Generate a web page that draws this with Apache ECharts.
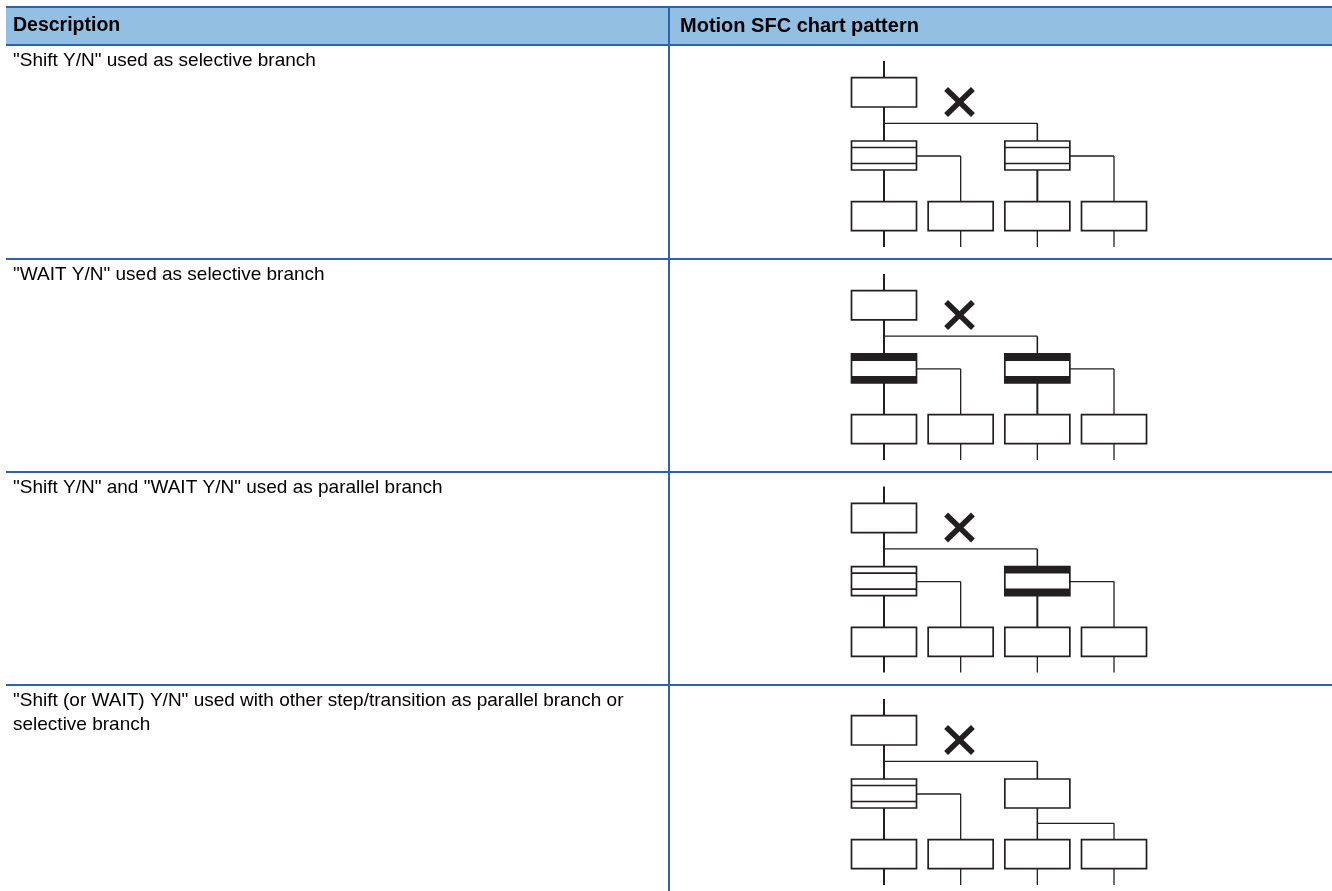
<!DOCTYPE html>
<html><head><meta charset="utf-8">
<script src="https://cdn.jsdelivr.net/npm/echarts@6/dist/echarts.min.js"></script>
<style>html,body{margin:0;padding:0;background:#fff}#c{width:1332px;height:891px}</style>
</head><body><div id="c"></div>
<script>
// ---- content ----
const headers = ['Description', 'Motion SFC chart pattern'];
const descriptions = [
  ['"Shift Y/N" used as selective branch'],
  ['"WAIT Y/N" used as selective branch'],
  ['"Shift Y/N" and "WAIT Y/N" used as parallel branch'],
  ['"Shift (or WAIT) Y/N" used with other step/transition as parallel branch or', 'selective branch']
];
// element placed at column 0 and column 2 of the second level of each pattern
const branchKinds = [
  ['shift', 'shift'],
  ['wait', 'wait'],
  ['shift', 'wait'],
  ['shift', 'step']
];
const columns = [0, 1, 2, 3];

// ---- layout ----
const rowTops = [45, 259, 472, 685];
const diagTop = [77.7, 290.6, 503.3, 715.7];
const L = { stubTop: -16.7, stepTop: 0, stepBot: 29.3, branchY: 45.6, tTop: 63.3, tBot: 92.3, sideY: 78.3,
            lowBranch: 107.6, boxTop: 124, boxBot: 153, stubBot: 169.3, halfW: 0.424, bar: 7, inner: 6.5 };
const colPx = 76.67, col0 = 884;
const ink = '#231f20', blue = '#2f62ad';

const grids = [], xAxes = [], yAxes = [], series = [];
diagTop.forEach((t, i) => {
  grids.push({ left: col0 - 0.5 * colPx, width: 4 * colPx, top: t - 20, height: 192 });
  xAxes.push({ type: 'value', gridIndex: i, min: -0.5, max: 3.5, show: false });
  yAxes.push({ type: 'value', gridIndex: i, min: -20, max: 172, inverse: true, show: false });
  series.push({
    type: 'custom', xAxisIndex: i, yAxisIndex: i, data: [[0, 0]], silent: true,
    renderItem: (params, api) => {
      const c = (x, y) => api.coord([x, y]);
      const kids = [];
      const line = (x1, y1, x2, y2, w) => {
        const a = c(x1, y1), b = c(x2, y2);
        kids.push({ type: 'line', shape: { x1: a[0], y1: a[1], x2: b[0], y2: b[1] }, style: { stroke: ink, lineWidth: w || 1.3 } });
      };
      const box = (col, y1, y2) => {
        const a = c(col - L.halfW, y1), b = c(col + L.halfW, y2);
        kids.push({ type: 'rect', shape: { x: a[0], y: a[1], width: b[0] - a[0], height: b[1] - a[1] }, style: { fill: '#fff', stroke: ink, lineWidth: 1.7 } });
        return [a, b];
      };
      line(0, L.stubTop, 0, L.stepTop, 2);
      box(0, L.stepTop, L.stepBot);
      line(0, L.stepBot, 0, L.tTop, 2);
      line(0, L.branchY, 2, L.branchY, 1.3);
      line(2, L.branchY, 2, L.tTop, 1.6);
      // X mark
      const xa = c(0.81, 11.3), xb = c(1.16, 37.3);
      kids.push({ type: 'line', shape: { x1: xa[0], y1: xa[1], x2: xb[0], y2: xb[1] }, style: { stroke: ink, lineWidth: 5.5 } });
      kids.push({ type: 'line', shape: { x1: xb[0], y1: xa[1], x2: xa[0], y2: xb[1] }, style: { stroke: ink, lineWidth: 5.5 } });
      branchKinds[i].forEach((kind, k) => {
        const col = columns[k * 2];
        if (kind === 'step') {
          box(col, L.tTop, L.tBot);
          line(col, L.tBot, col, L.boxTop, 1.6);
          line(col, L.lowBranch, col + 1, L.lowBranch, 1.3);
          line(col + 1, L.lowBranch, col + 1, L.boxTop, 1.3);
          return;
        }
        line(col + L.halfW, L.sideY, col + 1, L.sideY, 1.3);
        line(col + 1, L.sideY, col + 1, L.boxTop, 1.3);
        line(col, L.tBot, col, L.boxTop, 2);
        const [a, b] = box(col, L.tTop, L.tBot);
        if (kind === 'shift') {
          const p1 = c(0, L.tTop + L.inner)[1], p2 = c(0, L.tBot - L.inner)[1];
          kids.push({ type: 'line', shape: { x1: a[0], y1: p1, x2: b[0], y2: p1 }, style: { stroke: ink, lineWidth: 1.7 } });
          kids.push({ type: 'line', shape: { x1: a[0], y1: p2, x2: b[0], y2: p2 }, style: { stroke: ink, lineWidth: 1.7 } });
        } else {
          const h = c(0, L.tTop + L.bar)[1] - a[1];
          kids.push({ type: 'rect', shape: { x: a[0], y: a[1], width: b[0] - a[0], height: h }, style: { fill: ink } });
          kids.push({ type: 'rect', shape: { x: a[0], y: b[1] - h, width: b[0] - a[0], height: h }, style: { fill: ink } });
        }
      });
      columns.forEach(col => {
        box(col, L.boxTop, L.boxBot);
        line(col, L.boxBot, col, L.stubBot, col === 0 ? 2 : 1.3);
      });
      return { type: 'group', children: kids };
    }
  });
});

// ---- table frame and texts ----
const g = [];
g.push({ type: 'rect', shape: { x: 6, y: 7, width: 1326, height: 38 }, style: { fill: '#93bfe3' }, z: 0 });
g.push({ type: 'line', shape: { x1: 6, y1: 7, x2: 1332, y2: 7 }, style: { stroke: blue, lineWidth: 2 } });
rowTops.forEach(y => g.push({ type: 'line', shape: { x1: 6, y1: y, x2: 1332, y2: y }, style: { stroke: blue, lineWidth: 2 } }));
g.push({ type: 'line', shape: { x1: 669, y1: 7, x2: 669, y2: 891 }, style: { stroke: blue, lineWidth: 2 } });
g.push({ type: 'text', x: 13, y: 26, style: { text: headers[0], font: 'bold 19.5px "Liberation Sans", Arial, sans-serif', fill: '#000', verticalAlign: 'middle' } });
g.push({ type: 'text', x: 680, y: 26, style: { text: headers[1], font: 'bold 20px "Liberation Sans", Arial, sans-serif', fill: '#000', verticalAlign: 'middle' } });
descriptions.forEach((lines, i) => {
  lines.forEach((s, j) => g.push({ type: 'text', x: 13, y: rowTops[i] + 15.5 + j * 24,
    style: { text: s, font: '19px "Liberation Sans", Arial, sans-serif', fill: '#000', verticalAlign: 'middle' } }));
});

const chart = echarts.init(document.getElementById('c'), null, { renderer: 'canvas' });
chart.setOption({
  animation: false,
  grid: grids, xAxis: xAxes, yAxis: yAxes, series: series,
  graphic: g
});
</script></body></html>
